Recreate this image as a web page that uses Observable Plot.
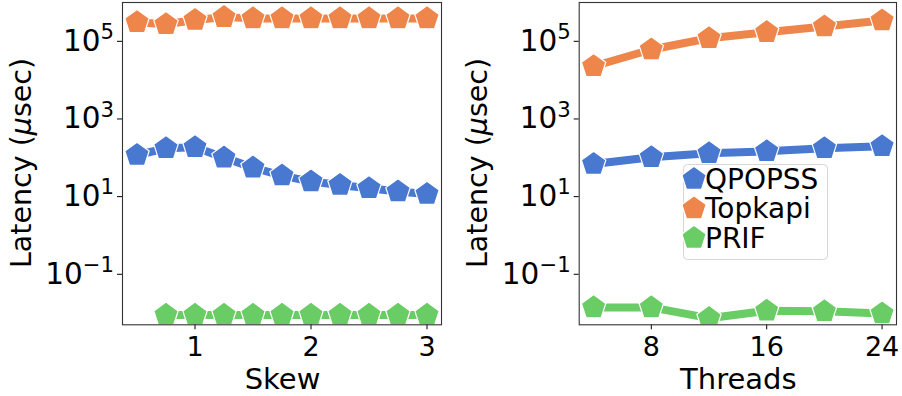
<!DOCTYPE html>
<html>
<head>
<meta charset="utf-8">
<script src="https://cdn.jsdelivr.net/npm/d3@7"></script>
<script src="https://cdn.jsdelivr.net/npm/@observablehq/plot@0.6"></script>
<style>
  html, body { margin: 0; padding: 0; background: white; }
  #wrap { position: relative; width: 902px; height: 396px; display: flex; overflow: hidden; font-family: "DejaVu Sans", sans-serif; }
  #legend { position: absolute; left: 683px; top: 164px; }
</style>
</head>
<body>
<div id="wrap"></div>
<script>
// ---------- data ----------
const seriesNames = ["QPOPSS", "Topkapi", "PRIF"];
const seriesColors = ["#4878d0", "#ee854a", "#6acc64"];

const skew = [0.5, 0.75, 1.0, 1.25, 1.5, 1.75, 2.0, 2.25, 2.5, 2.75, 3.0];
const skewPRIF = [0.75, 1.0, 1.25, 1.5, 1.75, 2.0, 2.25, 2.5, 2.75, 3.0];
const skewQPOPSS = [118, 176, 187, 101, 55.8, 34.8, 24.4, 19.9, 16.4, 13.5, 11.7];
const skewTopkapi = [310000, 275000, 355000, 420000, 390000, 390000, 390000, 390000, 390000, 390000, 390000];
const skewPRIFLat = [0.009, 0.009, 0.009, 0.009, 0.009, 0.009, 0.009, 0.009, 0.009, 0.009];

const threads = [4, 8, 12, 16, 20, 24];
const thrQPOPSS = [69, 103, 131, 147, 176, 198];
const thrTopkapi = [22800, 61500, 120000, 172000, 240000, 343000];
const thrPRIF = [0.0140, 0.0140, 0.0074, 0.0115, 0.0111, 0.0098];

const yTicks = [1e-1, 1e1, 1e3, 1e5];
const skewTicks = [1, 2, 3];
const threadTicks = [8, 16, 24];

// ---------- pentagon symbol ----------
const pentagon = {
  draw(context, size) {
    const R = Math.sqrt(size / Math.PI);
    for (let k = 0; k < 5; k++) {
      const a = -Math.PI / 2 + k * 2 * Math.PI / 5;
      const x = R * Math.cos(a), y = R * Math.sin(a);
      if (k) context.lineTo(x, y); else context.moveTo(x, y);
    }
    context.closePath();
  }
};

const W = 451, H = 396, MT = 2, MB = 396 - 324.3;

function panel(cfg) {
  const marks = [];
  cfg.series.forEach((s, si) => {
    const data = s.x.map((x, i) => ({x, y: s.y[i]}));
    marks.push(Plot.line(data, {x: "x", y: "y", stroke: seriesColors[si], strokeWidth: 8, strokeLinejoin: "round", clip: true}));
    marks.push(Plot.dot(data, {x: "x", y: "y", fill: seriesColors[si], stroke: "white", strokeWidth: 1.2, r: 12.8, symbol: pentagon, clip: true}));
  });
  marks.push(Plot.axisX({ticks: cfg.xTicks, tickSize: 5, tickPadding: 7, fontSize: 27, label: null, tickFormat: d => String(d)}));
  marks.push(Plot.axisY({ticks: yTicks, tickSize: 5, tickPadding: 3.5, fontSize: 29.5, label: null,
    tickFormat: d => "10|" + Math.round(Math.log10(d))}));
  marks.push(Plot.frame({stroke: "#333", strokeWidth: 1.1}));

  const svg = Plot.plot({
    width: W, height: H,
    marginLeft: cfg.ml, marginRight: cfg.mr, marginTop: MT, marginBottom: MB,
    x: {domain: cfg.xDomain},
    y: {type: "log", domain: [5e-3, 1e6]},
    style: {fontFamily: "DejaVu Sans", color: "black", background: "white", overflow: "visible"},
    marks
  });

  // superscript exponents on y tick labels
  svg.querySelectorAll('g[aria-label="y-axis tick label"] text').forEach(t => {
    const [base, e] = t.textContent.split("|");
    const ex = String(e).replace("-", "\u2212");
    t.textContent = "";
    const b = document.createElementNS("http://www.w3.org/2000/svg", "tspan");
    b.textContent = base;
    const s = document.createElementNS("http://www.w3.org/2000/svg", "tspan");
    s.textContent = ex;
    s.setAttribute("font-size", "0.72em");
    s.setAttribute("dy", "-0.55em");
    t.appendChild(b); t.appendChild(s);
  });

  const sel = d3.select(svg);
  // y label
  sel.append("text")
    .attr("transform", `translate(${cfg.ylx},163) rotate(-90)`)
    .attr("text-anchor", "middle")
    .attr("font-size", 28.5)
    .attr("fill", "black")
    .call(t => {
      t.append("tspan").text("Latency (");
      t.append("tspan").attr("font-style", "italic").text("μ");
      t.append("tspan").text("sec)");
    });
  // x label
  const cx = (cfg.ml + (W - cfg.mr)) / 2;
  sel.append("text")
    .attr("x", cx + 1).attr("y", 389)
    .attr("text-anchor", "middle")
    .attr("font-size", 29)
    .attr("fill", "black")
    .text(cfg.xlabel);
  return svg;
}

const wrap = document.getElementById("wrap");
wrap.appendChild(panel({
  series: [
    {x: skew, y: skewQPOPSS},
    {x: skew, y: skewTopkapi},
    {x: skewPRIF, y: skewPRIFLat}
  ],
  xDomain: [0.375, 3.125], xTicks: skewTicks, ml: 122, mr: 10, ylx: 30.5, xlabel: "Skew"
}));
wrap.appendChild(panel({
  series: [
    {x: threads, y: thrQPOPSS},
    {x: threads, y: thrTopkapi},
    {x: threads, y: thrPRIF}
  ],
  xDomain: [3, 25], xTicks: threadTicks, ml: 127.7, mr: 6, ylx: 36.2, xlabel: "Threads"
}));

// ---------- legend ----------
const lw = 144, lh = 95;
const leg = d3.create("svg").attr("id", "legend").attr("width", lw + 2).attr("height", lh + 2);
leg.append("rect").attr("x", 0.5).attr("y", 0.5).attr("width", lw).attr("height", lh).attr("rx", 4)
  .attr("fill", "rgba(255,255,255,0.8)").attr("stroke", "#d6d6d6").attr("stroke-width", 1);
const rowY = [15, 44.5, 74];
const symPath = d3.symbol(pentagon, Math.PI * 12.8 * 12.8)();
seriesNames.forEach((name, i) => {
  leg.append("path").attr("d", symPath).attr("transform", `translate(11,${rowY[i]})`)
    .attr("fill", seriesColors[i]).attr("stroke", "white").attr("stroke-width", 1.2);
  leg.append("text").attr("x", 22).attr("y", rowY[i] + 9.5).attr("font-size", 28)
    .attr("font-family", "DejaVu Sans").attr("fill", "black").text(name);
});
wrap.appendChild(leg.node());
</script>
</body>
</html>
